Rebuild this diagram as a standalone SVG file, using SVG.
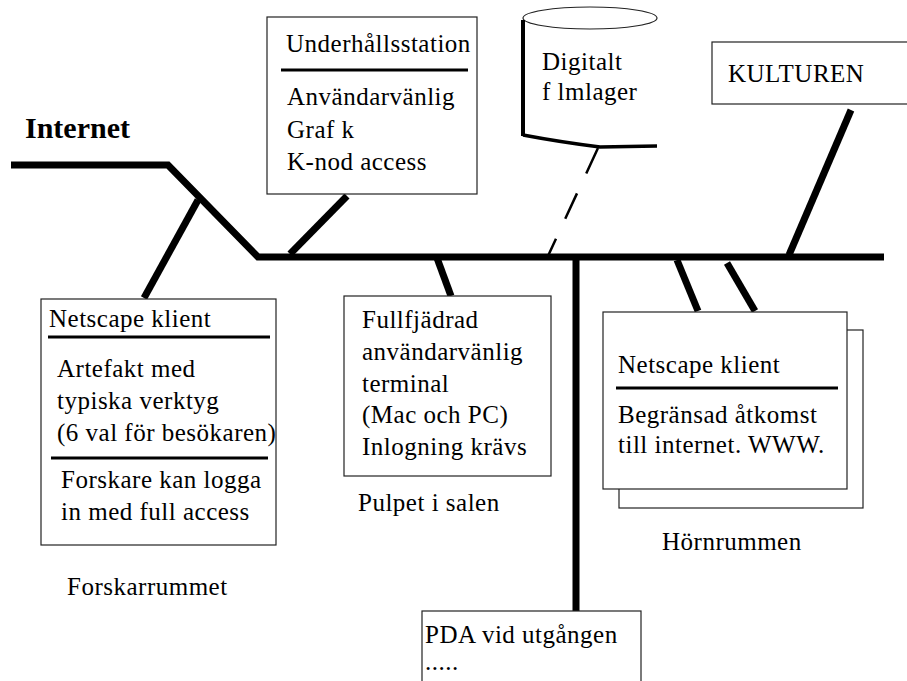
<svg xmlns="http://www.w3.org/2000/svg" width="907" height="681" viewBox="0 0 907 681">
  <style>
    .box { fill: #fff; stroke: #222; stroke-width: 1.2; }
    .rule { stroke: #000; stroke-width: 3; }
    .wire { fill: none; stroke: #000; stroke-width: 7; stroke-linecap: butt; stroke-linejoin: miter; }
    .dash { fill: none; stroke: #000; stroke-width: 2.5; stroke-dasharray: 28 22; }
    text { font-family: "Liberation Serif", "Times New Roman", serif; font-size: 25px; letter-spacing: 0.5px; fill: #000; }
    .title { font-weight: bold; font-size: 30px; letter-spacing: 0; }
  </style>
  <rect width="907" height="681" fill="#fff"/>

  <!-- network backbone and branches -->
  <g id="connectors">
    <polyline class="wire" points="11,165 168,165 258,257 884,257"/>
    <line class="wire" x1="198" y1="200" x2="144" y2="298"/>
    <line class="wire" x1="290" y1="254" x2="347" y2="196"/>
    <line class="dash" x1="598" y1="148" x2="548" y2="256"/>
    <line class="wire" x1="437" y1="258" x2="451" y2="296"/>
    <line class="wire" x1="576" y1="257" x2="576" y2="612" stroke-width="8"/>
    <line class="wire" x1="677" y1="260" x2="698" y2="311"/>
    <line class="wire" x1="727" y1="263" x2="755" y2="311"/>
    <line class="wire" x1="851" y1="110" x2="789" y2="255"/>
  </g>

  <g id="internet">
    <text class="title" x="25" y="138">Internet</text>
  </g>

  <g id="forskarrummet">
    <rect class="box" x="41" y="299" width="235" height="246"/>
    <text x="49" y="327">Netscape klient</text>
    <line class="rule" x1="48" y1="337" x2="270" y2="337"/>
    <text x="57" y="377">Artefakt med</text>
    <text x="57" y="409">typiska verktyg</text>
    <text x="57" y="441">(6 val för besökaren)</text>
    <line class="rule" x1="51" y1="458" x2="268" y2="458"/>
    <text x="61" y="488">Forskare kan logga</text>
    <text x="61" y="520">in med full access</text>
    <text x="67" y="595">Forskarrummet</text>
  </g>

  <g id="underhallsstation">
    <rect class="box" x="267" y="17" width="210" height="177"/>
    <text x="286" y="52">Underhållsstation</text>
    <line class="rule" x1="281" y1="70" x2="468" y2="70"/>
    <text x="287" y="105">Användarvänlig</text>
    <text x="287" y="138">Graf k</text>
    <text x="287" y="170">K-nod access</text>
  </g>

  <g id="filmlager">
    <ellipse cx="590" cy="18" rx="67" ry="11" fill="none" stroke="#222" stroke-width="1.2"/>
    <path d="M523,20 L523,136" fill="none" stroke="#000" stroke-width="4"/>
    <path d="M523,135 Q560,142 600,147 L657,146" fill="none" stroke="#000" stroke-width="3.5"/>
    <text x="542" y="70">Digitalt</text>
    <text x="542" y="100">f lmlager</text>
  </g>

  <g id="kulturen">
    <rect class="box" x="712" y="42" width="200" height="62"/>
    <text x="728" y="82">KULTUREN</text>
  </g>

  <g id="pulpet">
    <rect class="box" x="344" y="296" width="207" height="180"/>
    <text x="362" y="328">Fullfjädrad</text>
    <text x="362" y="360">användarvänlig</text>
    <text x="362" y="392">terminal</text>
    <text x="362" y="423">(Mac och PC)</text>
    <text x="362" y="455">Inlogning krävs</text>
    <text x="358" y="511">Pulpet i salen</text>
  </g>

  <g id="pda">
    <rect class="box" x="422" y="611" width="219" height="80"/>
    <text x="425" y="643">PDA vid utgången</text>
    <text x="425" y="670">.....</text>
  </g>

  <g id="hornrummen">
    <rect class="box" x="619" y="330" width="244" height="178"/>
    <rect class="box" x="603" y="312" width="244" height="177"/>
    <text x="618" y="373">Netscape klient</text>
    <line class="rule" x1="616" y1="388" x2="838" y2="388"/>
    <text x="618" y="423">Begränsad åtkomst</text>
    <text x="618" y="453">till internet. WWW.</text>
    <text x="662" y="550">Hörnrummen</text>
  </g>
</svg>
